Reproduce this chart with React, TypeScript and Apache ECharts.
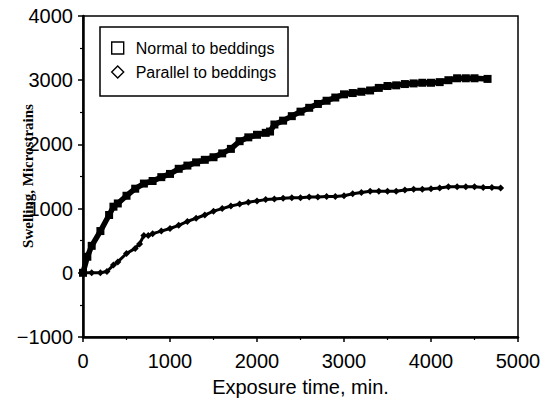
import React, { useEffect, useRef } from "react";
import * as echarts from "echarts";

// Exposure time (min) and swelling (microstrains)
const normalTime = [0, 50, 100, 200, 300, 350, 400, 500, 600, 700, 800, 900, 1000, 1100, 1200, 1300, 1400, 1500, 1600, 1700, 1800, 1900, 2000, 2100, 2150, 2200, 2300, 2400, 2500, 2600, 2700, 2800, 2900, 3000, 3100, 3200, 3300, 3400, 3500, 3600, 3700, 3800, 3900, 4000, 4100, 4200, 4300, 4400, 4500, 4650];
const normalSwelling = [0, 250, 420, 650, 900, 1030, 1080, 1200, 1310, 1390, 1430, 1490, 1540, 1620, 1670, 1720, 1760, 1800, 1860, 1930, 2050, 2110, 2150, 2180, 2200, 2310, 2370, 2440, 2510, 2570, 2630, 2680, 2730, 2780, 2800, 2820, 2840, 2880, 2910, 2920, 2940, 2950, 2960, 2960, 2970, 3000, 3030, 3030, 3030, 3020];

const parallelTime = [0, 100, 200, 275, 350, 400, 500, 600, 650, 700, 750, 800, 900, 1000, 1100, 1200, 1300, 1400, 1500, 1600, 1700, 1800, 1900, 2000, 2100, 2200, 2300, 2400, 2500, 2600, 2700, 2800, 2900, 3000, 3100, 3200, 3300, 3400, 3500, 3600, 3700, 3800, 3900, 4000, 4100, 4200, 4300, 4400, 4500, 4600, 4700, 4800];
const parallelSwelling = [0, 0, 0, 20, 120, 170, 300, 380, 450, 580, 580, 610, 650, 690, 740, 800, 850, 900, 960, 1000, 1040, 1070, 1100, 1120, 1140, 1150, 1160, 1170, 1170, 1180, 1180, 1190, 1190, 1200, 1230, 1250, 1270, 1270, 1270, 1270, 1290, 1300, 1300, 1310, 1320, 1340, 1340, 1340, 1340, 1330, 1330, 1320];

const seriesNames = ["Normal to beddings", "Parallel to beddings"];
const xTicks = [0, 1000, 2000, 3000, 4000, 5000];
const yTicks = [-1000, 0, 1000, 2000, 3000, 4000];
const xTitle = "Exposure time, min.";
const yTitle = "Swelling, Microstrains";

export default function App() {
  const ref = useRef<HTMLDivElement>(null);
  useEffect(() => {
    if (!ref.current) return;
    const chart = echarts.init(ref.current, undefined, { renderer: "svg" });
    const font = "'Liberation Sans', Arial, Helvetica, sans-serif";
    const axisCommon = {
      axisTick: { show: true, inside: false, length: 5, lineStyle: { color: "#000", width: 1.5 } },
      minorTick: { show: true, splitNumber: 2, length: 3, lineStyle: { color: "#000", width: 1.2 } },
      splitLine: { show: false },
    };
    chart.setOption({
      animation: false,
      backgroundColor: "#fff",
      grid: {
        left: 83,
        right: 29,
        top: 16,
        bottom: 67,
        show: true,
        borderColor: "#000",
        borderWidth: 1.5,
        backgroundColor: "transparent",
      },
      xAxis: {
        type: "value",
        min: xTicks[0],
        max: xTicks[xTicks.length - 1],
        interval: xTicks[1] - xTicks[0],
        ...axisCommon,
        axisLine: { show: true, onZero: false, lineStyle: { color: "#000", width: 2.5 } },
        axisLabel: { color: "#000", fontSize: 20, fontFamily: font, margin: 14, formatter: (v: number) => String(v) },
        name: xTitle,
        nameLocation: "middle",
        nameGap: 40,
        nameTextStyle: { color: "#000", fontSize: 20, fontFamily: font },
      },
      yAxis: {
        type: "value",
        min: yTicks[0],
        max: yTicks[yTicks.length - 1],
        interval: yTicks[1] - yTicks[0],
        ...axisCommon,
        axisLine: { show: true, onZero: false, lineStyle: { color: "#000", width: 2.5 } },
        axisLabel: {
          color: "#000",
          fontSize: 20,
          fontFamily: font,
          margin: 10,
          formatter: (v: number) => (v < 0 ? "\u2212" + Math.abs(v) : String(v)),
        },
      },
      legend: {
        orient: "vertical",
        left: 111,
        top: 39,
        padding: 0,
        itemWidth: 12,
        itemHeight: 12,
        itemGap: 6,
        textStyle: { color: "#000", fontSize: 16, fontFamily: font, lineHeight: 18, padding: [0, 0, 0, 7] },
        data: [
          { name: seriesNames[0], icon: "rect", itemStyle: { color: "#fff", borderColor: "#000", borderWidth: 1.4 } },
          { name: seriesNames[1], icon: "diamond", itemStyle: { color: "#fff", borderColor: "#000", borderWidth: 1.4 } },
        ],
      },
      graphic: [
        {
          type: "rect",
          shape: { x: 100, y: 27, width: 188, height: 69 },
          style: { fill: "none", stroke: "#000", lineWidth: 1.5 },
          z: 10,
        },
        {
          type: "text",
          x: 28,
          y: 176,
          rotation: Math.PI / 2,
          style: {
            text: yTitle,
            fill: "#000",
            font: "bold 15px 'Liberation Serif', 'Times New Roman', serif",
            align: "center",
            verticalAlign: "middle",
          },
          z: 10,
        },
      ],
      series: [
        {
          name: seriesNames[0],
          type: "line",
          data: normalTime.map((t, i) => [t, normalSwelling[i]]),
          symbol: "rect",
          symbolSize: 8,
          showAllSymbol: true,
          lineStyle: { color: "#000", width: 5.5 },
          itemStyle: { color: "#000" },
        },
        {
          name: seriesNames[1],
          type: "line",
          data: parallelTime.map((t, i) => [t, parallelSwelling[i]]),
          symbol: "diamond",
          symbolSize: 7,
          showAllSymbol: true,
          lineStyle: { color: "#000", width: 3 },
          itemStyle: { color: "#000" },
        },
      ],
    });
    return () => chart.dispose();
  }, []);
  return <div ref={ref} style={{ width: 547, height: 404, position: "absolute", left: 0, top: 0 }} />;
}
